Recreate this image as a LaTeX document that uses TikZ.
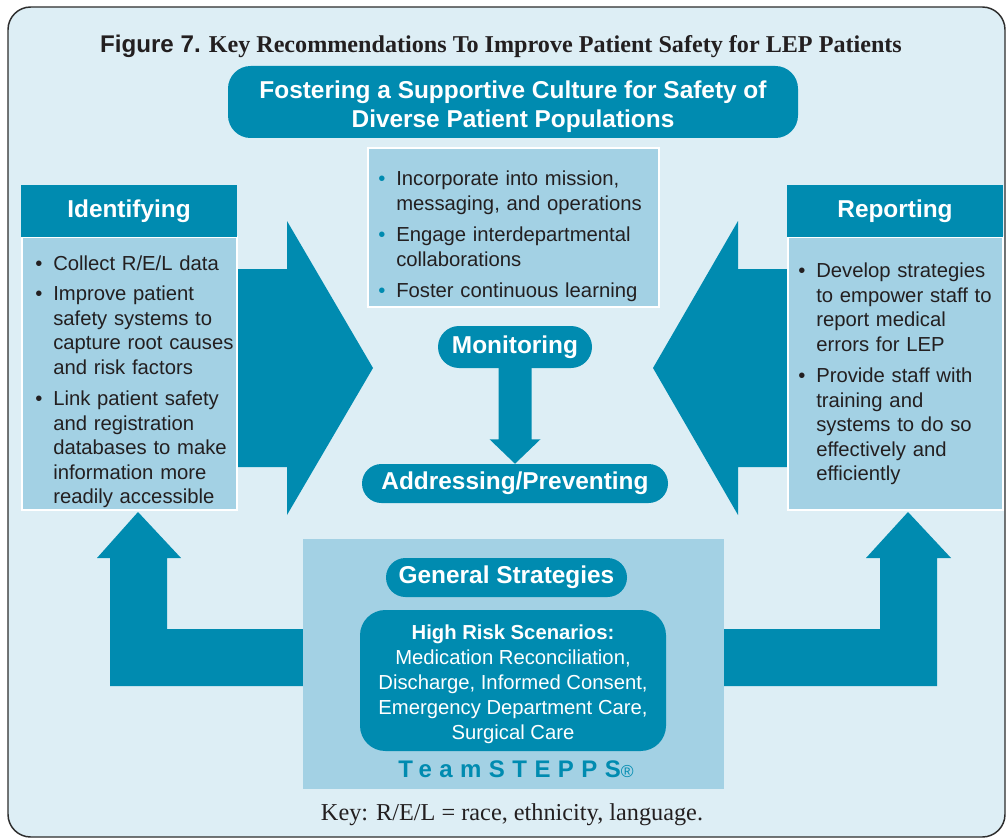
\documentclass[tikz,border=0pt]{standalone}
\usepackage{fontspec}
\setmainfont{Liberation Serif}
\setsansfont{Liberation Sans}
\usetikzlibrary{positioning,calc}

\definecolor{stepteal}{RGB}{0,139,176}
\definecolor{boxblue}{RGB}{163,209,228}
\definecolor{paleblue}{RGB}{221,238,245}
\definecolor{inkgray}{RGB}{35,31,32}
\definecolor{framegray}{RGB}{45,45,45}

% bullet items: the bullet, then the lines of the item stacked beside it
\newlength{\bltind}\setlength{\bltind}{13.5pt}
\newcommand{\bitem}[2][inkgray]{\par\noindent\hbox to \bltind{\textcolor{#1}{\textbullet}\hfil}%
  \begin{tabular}[t]{@{}l@{}}#2\end{tabular}\par}
\newcommand{\bgap}{\vspace{4.2pt}}

\tikzset{
  headbox/.style={fill=stepteal, text=white, inner sep=0pt,
    font=\sffamily\bfseries\fontsize{18.3}{21.8}\selectfont},
  listbox/.style={fill=boxblue, draw=white, line width=1.5pt, inner sep=0pt},
  listtext/.style={anchor=north west, inner sep=0pt, align=left, text=inkgray,
    font=\sffamily\fontsize{15.2}{18.4}\selectfont},
  blockarrow/.style={fill=stepteal},
}

\begin{document}
\begin{tikzpicture}[x=0.75pt,y=-0.75pt]

    % page and frame
    \useasboundingbox (0,0) rectangle (1006,838);
    \fill[white] (0,0) rectangle (1006,838);
    \draw[framegray, line width=1.1pt, fill=paleblue, rounded corners=17pt] (8,7) rectangle (1005,837);

    % title
    \node[anchor=base, inner sep=0pt, text=inkgray, font=\fontsize{18.1}{20}\selectfont] (title) at (501,53)
        {{\sffamily\bfseries Figure 7.} \bfseries Key Recommendations To Improve Patient Safety for LEP Patients};

    % big arrows pointing into the middle
    \coordinate (idtip) at (373,368);
    \coordinate (reptip) at (653,368);
    \fill[blockarrow] (230,269) -- (287,269) -- (287,221) -- (idtip) -- (287,515) -- (287,467) -- (230,467) -- cycle;
    \fill[blockarrow] (795,269) -- (738,269) -- (738,221) -- (reptip) -- (738,515) -- (738,467) -- (795,467) -- cycle;

    % L-shaped arrows from the strategies up to the side boxes
    \coordinate (idup) at (138,512);
    \coordinate (repup) at (908,512);
    \fill[blockarrow] (310,629) -- (167,629) -- (167,558) -- (181,558) -- (idup) -- (97,558) -- (110,558) -- (110,686) -- (310,686) -- cycle;
    \fill[blockarrow] (717,629) -- (880,629) -- (880,558) -- (866,558) -- (repup) -- (951,558) -- (937,558) -- (937,686) -- (717,686) -- cycle;

    % culture
    \node[headbox, rounded corners=17pt, minimum width=427.5pt, minimum height=54pt] (culture) at (513,102) {};
    \node[headbox, fill=none, align=center] (culturetext) at (513,106.5)
        {Fostering a Supportive Culture for Safety of\\Diverse Patient Populations};
    \node[listbox, minimum width=218.25pt, minimum height=119.25pt] (culturebox) at (513.5,227.5) {};
    \node[listtext, text width=215pt] (culturelist) at (378,160.8)
        {\bitem[stepteal]{Incorporate into mission,\\messaging, and operations}\bgap
         \bitem[stepteal]{Engage interdepartmental\\collaborations}\bgap
         \bitem[stepteal]{Foster continuous learning}};

    % identifying
    \node[listbox, minimum width=161.25pt, minimum height=204.75pt] (idbox) at (129.5,373.5) {};
    \node[headbox, minimum width=162pt, minimum height=39pt] (idhead) at (129,211) {Identifying};
    \node[listtext, text width=170pt] (idlist) at (35,245.8)
        {\bitem{Collect R/E/L data}\bgap
         \bitem{Improve patient\\safety systems to\\capture root causes\\and risk factors}\bgap
         \bitem{Link patient safety\\and registration\\databases to make\\information more\\readily accessible}};

    % reporting
    \node[listbox, minimum width=161.25pt, minimum height=204.75pt] (repbox) at (895.5,373.5) {};
    \node[headbox, minimum width=162pt, minimum height=39pt] (rephead) at (895,211) {Reporting};
    \node[listtext, text width=170pt] (replist) at (798,252.8)
        {\bitem{Develop strategies\\to empower staff to\\report medical\\errors for LEP}\bgap
         \bitem{Provide staff with\\training and\\systems to do so\\effectively and\\efficiently}};

    % monitoring and addressing
    \node[headbox, rounded corners=15.75pt, minimum width=115.5pt, minimum height=31.5pt] (monitor) at (515,347) {Monitoring};
    \node[headbox, rounded corners=14.6pt, minimum width=229.5pt, minimum height=29.25pt] (address) at (515,483.5) {Addressing/Preventing};
    \fill[blockarrow] ($(monitor.south)+(-16.5,-2)$) -- ($(monitor.south)+(16.5,-2)$) -- ($(monitor.south)+(16.5,71)$)
        -- ($(monitor.south)+(25.5,71)$) -- (address.north) -- ($(monitor.south)+(-25.5,71)$) -- ($(monitor.south)+(-16.5,71)$) -- cycle;

    % general strategies
    \node[fill=boxblue, inner sep=0pt, minimum width=315.75pt, minimum height=187.5pt] (genpanel) at (513.5,664) {};
    \node[headbox, rounded corners=14.6pt, minimum width=180.75pt, minimum height=29.25pt] (genpill) at (506.5,577.5) {General Strategies};
    \node[fill=stepteal, inner sep=0pt, rounded corners=19pt, minimum width=229.5pt, minimum height=105.75pt] (risk) at (513,680.5) {};
    \node[text=white, inner sep=0pt, align=center, font=\sffamily\fontsize{15.2}{18.75}\selectfont] (risktext) at (513,684)
        {\textbf{High Risk Scenarios:}\\Medication Reconciliation,\\Discharge, Informed Consent,\\Emergency Department Care,\\Surgical Care};
    \node[anchor=base, inner sep=0pt, text=stepteal, font=\sffamily\bfseries\fontsize{18}{20}\selectfont\addfontfeatures{LetterSpace=31}] (steps) at (516,777)
        {TeamSTEPPS{\mdseries\fontsize{13}{13}\selectfont ®}};

    % key
    \node[anchor=base, inner sep=0pt, text=inkgray, font=\fontsize{18.2}{20}\selectfont] (key) at (512,820) {Key: R/E/L = race, ethnicity, language.};

\end{tikzpicture}
\end{document}
